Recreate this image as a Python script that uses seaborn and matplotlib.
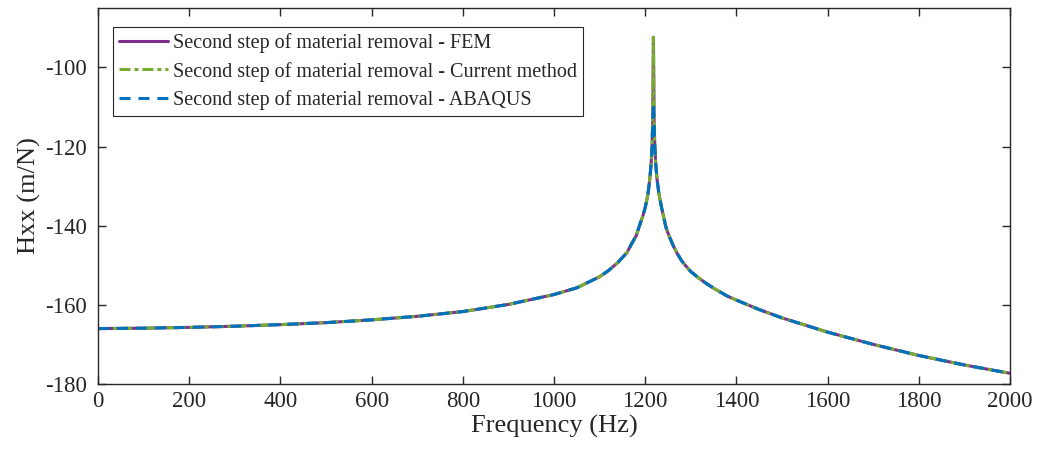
import matplotlib
matplotlib.use("Agg")
import matplotlib.pyplot as plt
import seaborn as sns
import pandas as pd

# Frequency response, Hxx in dB (m/N), second step of material removal
freq_hz = [0, 100, 200, 300, 400, 500, 600, 700, 800, 900, 1000, 1050, 1100,
           1120, 1140, 1160, 1170, 1180, 1190, 1195, 1200, 1203, 1206, 1210,
           1213, 1215, 1216.5, 1218, 1219.5, 1221, 1223, 1226, 1230, 1236,
           1245, 1250, 1260, 1270, 1280, 1290, 1300, 1315, 1330, 1350, 1380,
           1400, 1450, 1500, 1600, 1700, 1800, 1900, 2000]

hxx_fem = [-166.0, -165.9, -165.7, -165.4, -165.0, -164.5, -163.8, -162.9,
           -161.7, -159.9, -157.4, -155.7, -152.9,
           -151.3, -149.3, -146.8, -144.6, -142.6, -139.1, -137.5, -135.4,
           -133.8, -132.0, -128.3,
           -124.3, -119.8, -113.8, -92.4, -113.8, -119.8, -124.3, -128.4,
           -131.9, -135.5,
           -140.2, -141.9, -144.7, -147.0, -148.9, -150.3, -151.6, -153.0,
           -154.3, -155.8, -157.8,
           -158.8, -161.2, -163.3, -166.9, -170.0, -172.8, -175.2, -177.3]

hxx_current = [-166.0, -165.9, -165.7, -165.4, -165.0, -164.5, -163.8, -162.9,
               -161.7, -159.9, -157.4, -155.7, -152.9,
               -151.3, -149.3, -146.8, -144.6, -142.6, -139.1, -137.5, -135.4,
               -133.8, -132.0, -128.3,
               -124.3, -119.8, -113.8, -92.4, -113.8, -119.8, -124.3, -128.4,
               -131.9, -135.5,
               -140.2, -141.9, -144.7, -147.0, -148.9, -150.3, -151.6, -153.0,
               -154.3, -155.8, -157.8,
               -158.8, -161.2, -163.3, -166.9, -170.0, -172.8, -175.2, -177.3]

hxx_abaqus = [-166.0, -165.9, -165.7, -165.4, -165.0, -164.5, -163.8, -162.9,
              -161.7, -159.9, -157.4, -155.7, -152.9,
              -151.3, -149.3, -146.8, -144.6, -142.6, -139.1, -137.5, -135.4,
              -133.8, -132.0, -128.3,
              -124.3, -119.8, -113.8, -109.0, -113.8, -119.8, -124.3, -128.4,
              -131.9, -135.5,
              -140.2, -141.9, -144.7, -147.0, -148.9, -150.3, -151.6, -153.0,
              -154.3, -155.8, -157.8,
              -158.8, -161.2, -163.3, -166.9, -170.0, -172.8, -175.2, -177.3]

labels = ["Second step of material removal - FEM",
          "Second step of material removal - Current method",
          "Second step of material removal - ABAQUS"]
colors = ["#7E2F8E", "#77AC30", "#0072BD"]

x_ticks = [0, 200, 400, 600, 800, 1000, 1200, 1400, 1600, 1800, 2000]
y_ticks = [-180, -160, -140, -120, -100]

sns.set_theme(style="ticks")
plt.rcParams["font.family"] = ["Liberation Serif", "DejaVu Serif"]
plt.rcParams["axes.unicode_minus"] = False
plt.rcParams["axes.edgecolor"] = "#262626"
plt.rcParams["xtick.color"] = "#262626"
plt.rcParams["ytick.color"] = "#262626"

fig = plt.figure(figsize=(10.4, 4.58), dpi=100)
ax = fig.add_axes([0.0942, 0.1616, 0.877, 0.8209])

series = [hxx_fem, hxx_current, hxx_abaqus]
dash_styles = [None, (3.6, 1.3, 1.3, 1.3), (3.6, 2.6)]
for vals, lab, col, dsh in zip(series, labels, colors, dash_styles):
    df = pd.DataFrame({"freq": freq_hz, "hxx": vals})
    sns.lineplot(data=df, x="freq", y="hxx", ax=ax, color=col,
                 linewidth=2.2, label=lab, sort=False, estimator=None)
    if dsh is not None:
        ax.get_lines()[-1].set_dashes(dsh)

ax.set_xlim(0, 2000)
ax.set_ylim(-180, -85)
ax.set_xticks(x_ticks)
ax.set_yticks(y_ticks)
ax.tick_params(direction="in", length=6, width=1, labelsize=16.5,
               top=True, right=True, labelcolor="#262626")
ax.tick_params(axis="x", pad=5)
ax.tick_params(axis="y", pad=8)
for sp in ax.spines.values():
    sp.set_linewidth(1.0)
    sp.set_visible(True)

ax.set_xlabel("Frequency (Hz)", fontsize=19, color="#262626", labelpad=2)
ax.set_ylabel("Hxx (m/N)", fontsize=19, color="#262626", labelpad=3)

leg = ax.legend(loc="upper left", bbox_to_anchor=(0.0164, 0.949),
                fontsize=14.5, frameon=True, fancybox=False,
                handlelength=2.45, handletextpad=0.25, borderpad=0.3,
                labelspacing=0.42, borderaxespad=0)
leg.get_frame().set_edgecolor("#262626")
leg.get_frame().set_linewidth(0.8)
leg.get_frame().set_alpha(1)

fig.savefig("out.png", dpi=100)
